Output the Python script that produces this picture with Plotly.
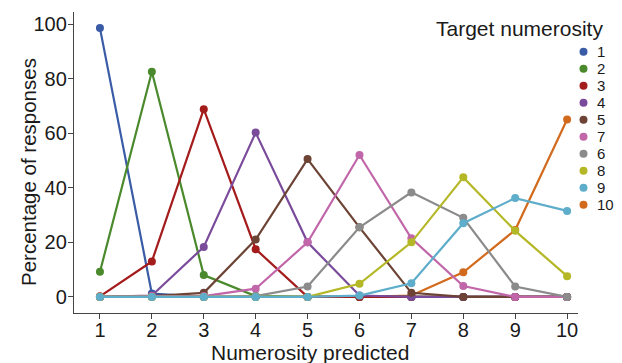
import plotly.graph_objects as go

x_vals = [1, 2, 3, 4, 5, 6, 7, 8, 9, 10]

s1 = [98.5, 1.2, 0, 0, 0, 0, 0, 0, 0, 0]
s2 = [9.2, 82.5, 8.0, 0.3, 0, 0, 0, 0, 0, 0]
s3 = [0.2, 13.0, 68.8, 17.5, 0, 0, 0, 0, 0, 0]
s4 = [0, 0.5, 18.3, 60.2, 20.0, 0.5, 0, 0, 0, 0]
s5 = [0, 0.3, 1.5, 21.0, 50.5, 25.5, 1.5, 0, 0, 0]
s7 = [0, 0.3, 0.3, 3.0, 20.0, 52.0, 21.5, 4.0, 0, 0]
s6 = [0, 0, 0, 0.3, 3.8, 25.5, 38.3, 29.0, 3.8, 0]
s8 = [0, 0, 0, 0, 0, 4.8, 20.0, 43.8, 24.2, 7.6]
s9 = [0, 0, 0, 0, 0, 0.5, 5.0, 27.0, 36.2, 31.5]
s10 = [0, 0, 0, 0, 0, 0, 0.5, 9.0, 24.5, 65.0]

legend_names = ["1", "2", "3", "4", "5", "7", "6", "8", "9", "10"]
series = [s1, s2, s3, s4, s5, s7, s6, s8, s9, s10]
colors = ["#3a5ba6", "#4a8a2c", "#a41b1c", "#7a4b9b", "#6d4335",
          "#c166a8", "#8b8b8b", "#b4b826", "#5eadca", "#d26a1d"]

# drawing order: 10 drawn first (underneath), then the rest in legend order
draw_order = [9, 0, 1, 2, 3, 4, 5, 6, 7, 8]

FONT = "Liberation Sans, Arial, Helvetica, sans-serif"
TXT = "#1a1a1a"

fig = go.Figure()
for i in draw_order:
    fig.add_trace(go.Scatter(
        x=x_vals, y=series[i], name=legend_names[i],
        mode="lines+markers",
        line=dict(color=colors[i], width=2.2),
        marker=dict(color=colors[i], size=8),
        showlegend=False,
    ))

W, H = 622, 363
ml, mr, mt, mb = 74, 44, 12, 50
pw, ph = W - ml - mr, H - mt - mb


def px_x(p):
    return (p - ml) / pw


def px_y(p):
    return (H - mb - p) / ph


annotations = [
    dict(text="Numerosity predicted", x=px_x(310), y=px_y(352), xref="paper", yref="paper",
         xanchor="center", yanchor="middle", showarrow=False, font=dict(size=21, family=FONT, color=TXT)),
    dict(text="Percentage of responses", x=px_x(29), y=px_y(172), xref="paper", yref="paper",
         xanchor="center", yanchor="middle", textangle=-90, showarrow=False,
         font=dict(size=20.5, family=FONT, color=TXT)),
    dict(text="Target numerosity", x=px_x(605), y=px_y(28), xref="paper", yref="paper",
         xanchor="right", yanchor="middle", showarrow=False, font=dict(size=21, family=FONT, color=TXT)),
]
shapes = []
for k, (nm, c) in enumerate(zip(legend_names, colors)):
    yy = px_y(51.7 + k * 17.0)
    annotations.append(dict(text=nm, x=px_x(595), y=yy, xref="paper", yref="paper",
                            xanchor="left", yanchor="middle", showarrow=False,
                            font=dict(size=15, family=FONT, color=TXT)))
    shapes.append(dict(type="circle", xref="paper", yref="paper",
                       xsizemode="pixel", ysizemode="pixel",
                       xanchor=px_x(583.5), yanchor=yy,
                       x0=-4, x1=4, y0=-4, y1=4,
                       fillcolor=c, line=dict(width=0)))

axis_common = dict(showline=True, linecolor="#444444", linewidth=1.3, ticks="outside",
                   ticklen=5, tickwidth=1.3, tickcolor="#444444", showgrid=False, zeroline=False,
                   tickfont=dict(size=20, family=FONT, color=TXT))

fig.update_layout(
    width=W, height=H,
    margin=dict(l=ml, r=mr, t=mt, b=mb),
    paper_bgcolor="white", plot_bgcolor="white",
    xaxis=dict(range=[0.5, 10.21], tickvals=x_vals, ticktext=[str(v) for v in x_vals],
               ticklabelstandoff=-6, **axis_common),
    yaxis=dict(range=[-5.9, 104.4], tickvals=[0, 20, 40, 60, 80, 100],
               ticklabelstandoff=-3, **axis_common),
    annotations=annotations,
    shapes=shapes,
    font=dict(family=FONT, color=TXT),
)

fig.write_html("out.html")
